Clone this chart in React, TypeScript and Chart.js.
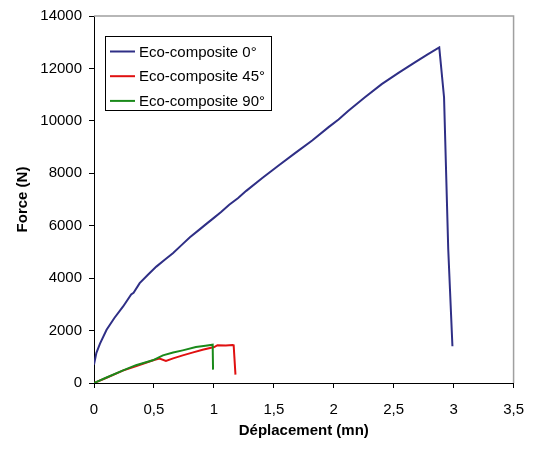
import React, { useEffect, useRef } from 'react';
import { Chart, registerables } from 'chart.js';

Chart.register(...registerables);

const FONT = '"Liberation Sans", Arial, sans-serif';

const seriesLabels = ['Eco-composite 0°', 'Eco-composite 45°', 'Eco-composite 90°'];
const seriesColors = ['#2f2f86', '#e01010', '#1a8a1a'];

// Eco-composite 0°
const blueX = [0, 0.02, 0.05, 0.105, 0.17, 0.243, 0.31, 0.33, 0.381, 0.45, 0.52, 0.59, 0.658, 0.73, 0.8, 0.879, 0.94, 1.0, 1.06, 1.128, 1.2, 1.27, 1.404, 1.54, 1.68, 1.82, 1.957, 2.04, 2.12, 2.26, 2.4, 2.54, 2.68, 2.78, 2.88, 2.92, 2.955, 2.99];
const blueY = [700, 1150, 1500, 2030, 2480, 2920, 3380, 3440, 3810, 4130, 4440, 4700, 4950, 5260, 5560, 5850, 6080, 6300, 6520, 6800, 7050, 7330, 7820, 8300, 8780, 9250, 9760, 10050, 10380, 10900, 11400, 11830, 12240, 12530, 12800, 10900, 5100, 1400];

// Eco-composite 45°
const redX = [0, 0.1, 0.24, 0.36, 0.5, 0.547, 0.6, 0.66, 0.74, 0.82, 0.906, 1.003, 1.03, 1.1, 1.155, 1.165, 1.18];
const redY = [0, 190, 470, 660, 880, 930, 840, 940, 1055, 1160, 1270, 1370, 1440, 1430, 1450, 1440, 320];

// Eco-composite 90°
const greenX = [0, 0.1, 0.243, 0.35, 0.49, 0.575, 0.66, 0.74, 0.85, 0.93, 0.99, 0.993];
const greenY = [0, 200, 484, 680, 865, 1055, 1160, 1245, 1370, 1420, 1460, 510];

const xTickLabels = ['0', '0,5', '1', '1,5', '2', '2,5', '3', '3,5'];
const yTickLabels = ['0', '2000', '4000', '6000', '8000', '10000', '12000', '14000'];

const xTitle = 'Déplacement (mn)';
const yTitle = 'Force (N)';

const toPoints = (xs: number[], ys: number[]) => xs.map((x, i) => ({ x, y: ys[i] }));

const framePlugin = {
  id: 'frame',
  beforeDatasetsDraw(chart: any) {
    const { ctx, chartArea } = chart;
    ctx.save();
    ctx.strokeStyle = '#a0a0a0';
    ctx.lineWidth = 1.5;
    ctx.beginPath();
    ctx.moveTo(chartArea.left, chartArea.top);
    ctx.lineTo(chartArea.right, chartArea.top);
    ctx.lineTo(chartArea.right, chartArea.bottom);
    ctx.stroke();
    ctx.restore();
  },
};

const legendPlugin = {
  id: 'boxLegend',
  afterDraw(chart: any) {
    const { ctx, chartArea } = chart;
    const left = chartArea.left + 11;
    const top = chartArea.top + 20;
    const w = 166;
    const h = 74;
    ctx.save();
    ctx.fillStyle = '#ffffff';
    ctx.fillRect(left, top, w, h);
    ctx.strokeStyle = '#000000';
    ctx.lineWidth = 1;
    ctx.strokeRect(left + 0.5, top + 0.5, w, h);
    ctx.font = `15px ${FONT}`;
    ctx.textBaseline = 'middle';
    ctx.textAlign = 'left';
    chart.data.datasets.forEach((ds: any, i: number) => {
      const cy = top + 15.5 + i * 24.7;
      ctx.strokeStyle = ds.borderColor;
      ctx.lineWidth = 2;
      ctx.beginPath();
      ctx.moveTo(left + 5, cy);
      ctx.lineTo(left + 30, cy);
      ctx.stroke();
      ctx.fillStyle = '#000000';
      ctx.fillText(ds.label, left + 34, cy + 1);
    });
    ctx.restore();
  },
};

export default function App() {
  const canvasRef = useRef<HTMLCanvasElement | null>(null);

  useEffect(() => {
    if (!canvasRef.current) return;
    const series = [
      { x: blueX, y: blueY, order: 3 },
      { x: redX, y: redY, order: 2 },
      { x: greenX, y: greenY, order: 1 },
    ];
    const chart = new Chart(canvasRef.current, {
      type: 'scatter',
      data: {
        datasets: series.map((s, i) => ({
          label: seriesLabels[i],
          data: toPoints(s.x, s.y),
          showLine: true,
          borderColor: seriesColors[i],
          backgroundColor: seriesColors[i],
          borderWidth: 2,
          pointRadius: 0,
          pointHoverRadius: 0,
          tension: 0,
          order: s.order,
        })),
      },
      options: {
        animation: false,
        responsive: false,
        maintainAspectRatio: false,
        layout: { padding: { top: 12, right: 17, left: 0, bottom: 0 } },
        plugins: {
          legend: { display: false },
          tooltip: { enabled: false },
        },
        scales: {
          x: {
            type: 'linear',
            min: 0,
            max: 3.5,
            afterFit: (s: any) => { s.height = 67; },
            ticks: {
              stepSize: 0.5,
              color: '#000',
              padding: 13,
              font: { size: 15, family: FONT },
              callback: (v: any) => xTickLabels[Math.round(Number(v) / 0.5)],
            },
            grid: { drawOnChartArea: false, drawTicks: true, tickLength: 5, tickColor: '#000' },
            border: { display: true, color: '#000', width: 1 },
            title: {
              display: true,
              text: xTitle,
              color: '#000',
              font: { size: 15, weight: 'bold', family: FONT },
              padding: { top: 0, bottom: 10 },
            },
          },
          y: {
            type: 'linear',
            min: 0,
            max: 14000,
            afterFit: (s: any) => { s.width = 94; },
            ticks: {
              stepSize: 2000,
              color: '#000',
              padding: 7,
              font: { size: 15, family: FONT },
              callback: (v: any) => yTickLabels[Math.round(Number(v) / 2000)],
            },
            grid: { drawOnChartArea: false, drawTicks: true, tickLength: 5, tickColor: '#000' },
            border: { display: true, color: '#000', width: 1 },
            title: {
              display: true,
              text: yTitle,
              color: '#000',
              font: { size: 15, weight: 'bold', family: FONT },
              padding: { top: 14, bottom: 0 },
            },
          },
        },
      } as any,
      plugins: [framePlugin, legendPlugin],
    });
    return () => chart.destroy();
  }, []);

  return (
    <div style={{ position: 'fixed', left: 0, top: 0, width: 537, height: 450, background: '#fff' }}>
      <canvas ref={canvasRef} width={537} height={450} style={{ display: 'block' }} />
    </div>
  );
}
